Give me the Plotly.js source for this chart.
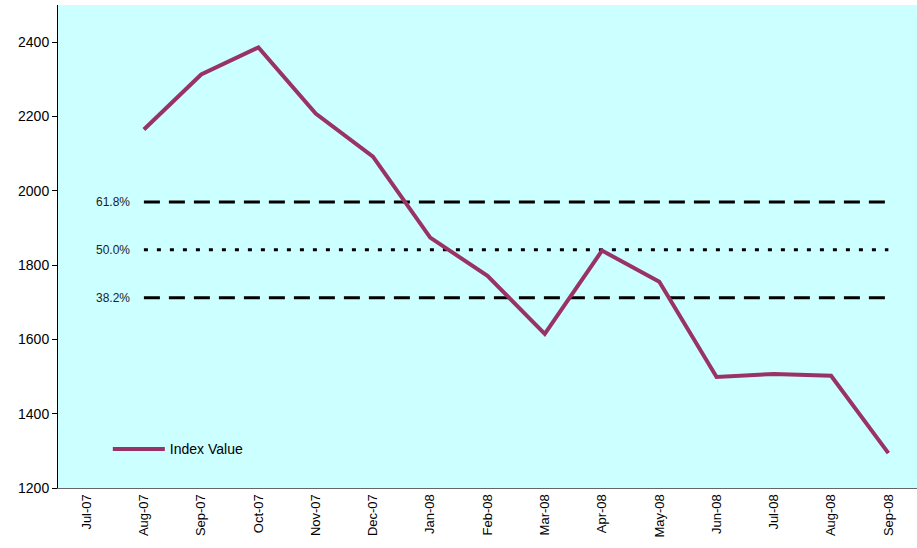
<!DOCTYPE html>
<html><head><meta charset="utf-8">
<script src="https://cdn.plot.ly/plotly-3.0.1.min.js"></script>
<style>body{margin:0;background:#fff}#chart{width:917px;height:548px}</style>
</head><body><div id="chart"></div>
<script>
const months = ["Jul-07","Aug-07","Sep-07","Oct-07","Nov-07","Dec-07","Jan-08","Feb-08","Mar-08","Apr-08","May-08","Jun-08","Jul-08","Aug-08","Sep-08"];
const indexValue = [null,2165,2313,2386,2208,2092,1874,1771,1615,1839,1755,1499,1507,1502,1294];
const fibLabels = ["61.8%","50.0%","38.2%"];
const fibLevels = [1970,1841,1712];
const fibStart = "Aug-07";
const fibEnd = "Sep-08";
const fibDash = ["16px,9px","4px,9px","16px,9px"];

const traces = [];
fibLevels.forEach((v,i)=>{
  traces.push({x:[fibStart,fibEnd],y:[v,v],mode:"lines",showlegend:false,hoverinfo:"skip",
    line:{color:"#000",width:3,dash:fibDash[i]}});
});
traces.push({x:months,y:indexValue,mode:"lines",name:"Index Value",connectgaps:false,
  line:{color:"#993366",width:4}});

const annotations = fibLevels.map((v,i)=>({x:fibStart,y:v,xref:"x",yref:"y",text:fibLabels[i],
  showarrow:false,xanchor:"right",xshift:-12,font:{family:"Liberation Sans, Arial",size:12,color:"#222"}}));

const layout = {
  width:917,height:548,
  margin:{l:58,r:0,t:5,b:60},
  paper_bgcolor:"#fff",plot_bgcolor:"#CCFFFF",
  font:{family:"Liberation Sans, Arial",size:13,color:"#000"},
  xaxis:{type:"category",categoryorder:"array",categoryarray:months,range:[-0.5,14.5],
    tickangle:-90,showgrid:false,zeroline:false,showline:true,linecolor:"#666",linewidth:1,
    ticks:"",tickfont:{size:13}},
  yaxis:{range:[1200,2500],tickvals:[1200,1400,1600,1800,2000,2200,2400],showgrid:false,zeroline:false,
    showline:true,linecolor:"#000",linewidth:1,ticks:"outside",ticklen:5,tickcolor:"#000",tickfont:{size:14}},
  showlegend:true,
  legend:{x:0.058,y:0.08,xanchor:"left",yanchor:"middle",bgcolor:"rgba(0,0,0,0)",font:{size:14},itemwidth:52},
  annotations:annotations
};
Plotly.newPlot("chart",traces,layout,{displayModeBar:false,staticPlot:true});
</script></body></html>
